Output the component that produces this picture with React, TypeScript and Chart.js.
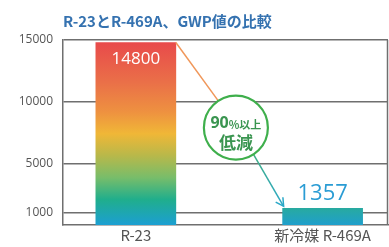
import React, { useEffect, useRef } from "react";
import { Chart, registerables } from "chart.js";

Chart.register(...registerables);

const categories = ["R-23", "新冷媒 R-469A"];
const gwpValues = [14800, 1357];
const yTicks = [1000, 5000, 10000, 15000];
const titleText = "R-23とR-469A、GWP値の比較";
const badgeLine1 = "90";
const badgeLine1b = "%以上";
const badgeLine2 = "低減";

const JP = '"Noto Sans CJK JP", "Noto Sans", sans-serif';
const NUM = '"Open Sans", "Noto Sans", sans-serif';

const overlay = {
  id: "overlay",
  afterDatasetsDraw(chart: any) {
    const ctx = chart.ctx as CanvasRenderingContext2D;
    const area = chart.chartArea;
    const meta = chart.getDatasetMeta(0);
    const b0 = meta.data[0] as any;
    const b1 = meta.data[1] as any;
    ctx.save();
    // right border
    ctx.strokeStyle = "#6f6f6f";
    ctx.lineWidth = 1.5;
    ctx.beginPath();
    ctx.moveTo(area.right - 0.5, area.top);
    ctx.lineTo(area.right - 0.5, area.bottom);
    ctx.stroke();

    // title
    ctx.fillStyle = "#3572b0";
    ctx.font = "bold 15px " + JP;
    ctx.textBaseline = "middle";
    ctx.textAlign = "left";
    ctx.fillText(titleText, area.left, 21);

    // value labels
    const w0 = b0.width;
    ctx.textAlign = "center";
    ctx.textBaseline = "middle";
    ctx.fillStyle = "#ffffff";
    ctx.font = "17px " + NUM;
    ctx.fillText(String(gwpValues[0]), b0.x, b0.y + 17);
    ctx.fillStyle = "#2a9cd4";
    ctx.font = "22px " + NUM;
    ctx.fillText(String(gwpValues[1]), b1.x, b1.y - 15);

    // arrow line
    const sx = b0.x + w0 / 2;
    const sy = b0.y;
    const ex = b1.x - b1.width / 2 + 1;
    const ey = b1.y - 2;
    const t = 0.52;
    const cx = sx + (ex - sx) * t + 4;
    const cy = sy + (ey - sy) * t;
    const r = 32;
    const dx = ex - sx;
    const dy = ey - sy;
    const len = Math.hypot(dx, dy);
    const ux = dx / len;
    const uy = dy / len;
    ctx.lineWidth = 1.5;
    ctx.strokeStyle = "#f0975a";
    ctx.beginPath();
    ctx.moveTo(sx, sy);
    ctx.lineTo(cx - ux * r, cy - uy * r);
    ctx.stroke();
    const g = ctx.createLinearGradient(cx, cy, ex, ey);
    g.addColorStop(0, "#4cb060");
    g.addColorStop(1, "#2aa8c8");
    ctx.strokeStyle = g;
    ctx.beginPath();
    ctx.moveTo(cx + ux * r, cy + uy * r);
    ctx.lineTo(ex, ey);
    ctx.stroke();
    const ah = 9;
    const ang = Math.atan2(dy, dx);
    ctx.strokeStyle = "#2aa8c8";
    ctx.beginPath();
    ctx.moveTo(ex - ah * Math.cos(ang - 0.5), ey - ah * Math.sin(ang - 0.5));
    ctx.lineTo(ex, ey);
    ctx.lineTo(ex - ah * Math.cos(ang + 0.5), ey - ah * Math.sin(ang + 0.5));
    ctx.stroke();

    // badge circle
    ctx.fillStyle = "#ffffff";
    ctx.strokeStyle = "#3faf4c";
    ctx.lineWidth = 2.2;
    ctx.beginPath();
    ctx.arc(cx, cy, r, 0, Math.PI * 2);
    ctx.fill();
    ctx.stroke();

    ctx.fillStyle = "#3a9550";
    ctx.textBaseline = "middle";
    ctx.font = "bold 16px " + NUM;
    const w1 = ctx.measureText(badgeLine1).width;
    ctx.font = "bold 11px " + JP;
    const w2 = ctx.measureText(badgeLine1b).width;
    const startX = cx - (w1 + w2) / 2;
    ctx.textAlign = "left";
    ctx.font = "bold 16px " + NUM;
    ctx.fillText(badgeLine1, startX, cy - 4);
    ctx.font = "bold 11px " + JP;
    ctx.fillText(badgeLine1b, startX + w1, cy - 3);
    ctx.textAlign = "center";
    ctx.font = "bold 17px " + JP;
    ctx.fillText(badgeLine2, cx, cy + 15);
    ctx.restore();
  },
};

export default function App() {
  const ref = useRef<HTMLCanvasElement | null>(null);
  useEffect(() => {
    document.body.style.margin = "0";
    const canvas = ref.current!;
    const chart = new Chart(canvas, {
      type: "bar",
      data: {
        datasets: [
          {
            data: gwpValues.map((v, i) => ({ x: i, y: v })),
            barThickness: 80,
            backgroundColor: (c: any) => {
              const ch = c.chart;
              const area = ch.chartArea;
              if (!area) return "#1fa0c8";
              const ys = ch.scales.y;
              const top = ys.getPixelForValue(gwpValues[c.dataIndex]);
              const bot = ys.getPixelForValue(0);
              const gr = ch.ctx.createLinearGradient(0, top, 0, bot);
              if (c.dataIndex === 0) {
                gr.addColorStop(0, "#e84a4b");
                gr.addColorStop(0.22, "#ea7048");
                gr.addColorStop(0.38, "#ee9140");
                gr.addColorStop(0.5, "#f0b737");
                gr.addColorStop(0.62, "#b8b84a");
                gr.addColorStop(0.74, "#78bd6a");
                gr.addColorStop(0.86, "#20ae8c");
                gr.addColorStop(1, "#1c9fd2");
              } else {
                gr.addColorStop(0, "#28aaa0");
                gr.addColorStop(1, "#1f9fcc");
              }
              return gr;
            },
          },
        ],
      },
      options: {
        animation: false,
        responsive: false,
        layout: { padding: { top: 40, right: 1, left: 0, bottom: 0 } },
        plugins: { legend: { display: false }, tooltip: { enabled: false } },
        scales: {
          x: {
            type: "linear",
            offset: false,
            bounds: "data",
            min: -0.39,
            max: 1.35,
            afterBuildTicks: (s: any) => {
              s.ticks = categories.map((_, i) => ({ value: i }));
            },
            afterDataLimits: (s: any) => {
              s.min = -0.39;
              s.max = 1.35;
            },
            afterFit: (s: any) => {
              s.height = 22;
            },
            ticks: {
              callback: (v: any) => categories[v] ?? "",
              color: "#555555",
              font: { size: 15, family: JP },
              padding: 1,
              autoSkip: false,
              maxRotation: 0,
            },
            grid: { display: false, drawTicks: false },
            border: { display: true, color: "#6f6f6f", width: 1.5 },
          },
          y: {
            min: 0,
            max: 15000,
            afterBuildTicks: (s: any) => {
              s.ticks = yTicks.map((v) => ({ value: v }));
            },
            afterFit: (s: any) => {
              s.width = 63;
            },
            ticks: {
              callback: (v: any) => String(v),
              color: "#555555",
              font: { size: 12, family: NUM },
              padding: 10,
            },
            grid: { color: "#6f6f6f", lineWidth: 1.5, drawTicks: false },
            border: { display: true, color: "#6f6f6f", width: 1.5 },
          },
        },
      },
      plugins: [overlay],
    } as any);
    return () => chart.destroy();
  }, []);
  return <canvas ref={ref} width={389} height={247} style={{ display: "block" }} />;
}
